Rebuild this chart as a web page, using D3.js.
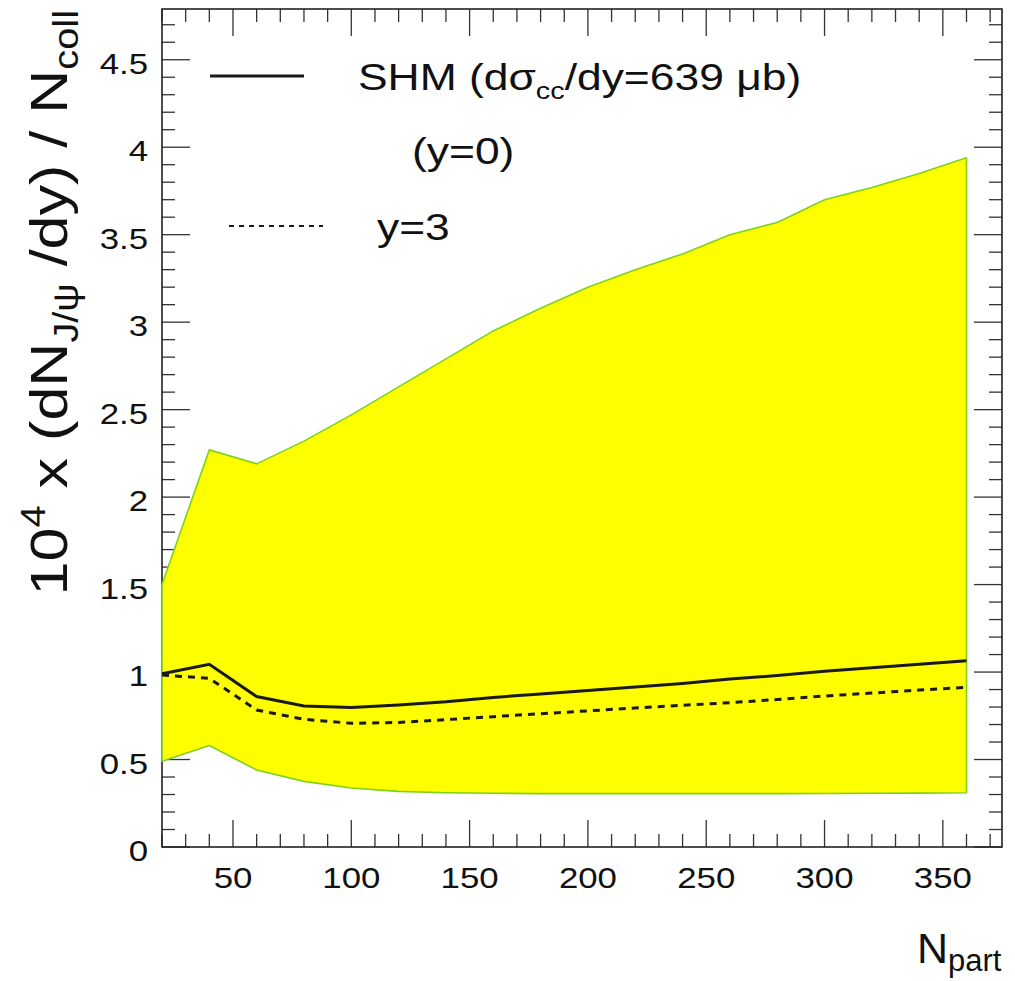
<!DOCTYPE html>
<html><head><meta charset="utf-8">
<script src="https://cdn.jsdelivr.net/npm/d3@7"></script>
<style>body{margin:0;background:#fff} text{font-family:"Liberation Sans",Arial,sans-serif;fill:#111}</style>
</head><body><svg id="c" width="1015" height="981"></svg>
<script>
const npart   = [20,40,60,80,100,120,140,160,180,200,220,240,260,280,300,320,340,360];
const bandHigh= [1.50,2.27,2.19,2.32,2.47,2.63,2.79,2.95,3.08,3.20,3.30,3.39,3.50,3.57,3.70,3.77,3.85,3.94];
const bandLow = [0.49,0.58,0.44,0.375,0.337,0.318,0.31,0.307,0.305,0.305,0.305,0.305,0.305,0.305,0.306,0.307,0.308,0.31];
const shmY0   = [0.99,1.044,0.86,0.806,0.798,0.812,0.83,0.855,0.875,0.895,0.915,0.935,0.96,0.98,1.005,1.025,1.045,1.065];
const shmY3   = [0.983,0.964,0.783,0.73,0.707,0.712,0.728,0.745,0.762,0.778,0.795,0.81,0.825,0.843,0.863,0.88,0.897,0.913];
const xMajor  = [50,100,150,200,250,300,350];
const xTickLabels = ["50","100","150","200","250","300","350"];
const yMajor  = [0,0.5,1,1.5,2,2.5,3,3.5,4,4.5];
const yTickLabels = ["0","0.5","1","1.5","2","2.5","3","3.5","4","4.5"];

const svg = d3.select("#c");
const L=162, R=1002, T=9, B=847;
const SX = 1.2; // horizontal stretch of the original text rendering
const x = d3.scaleLinear().domain([20,375]).range([L,R]);
const y = d3.scaleLinear().domain([0,4.79]).range([B,T]);

const xMinor = d3.range(20,376,10).filter(v=>!xMajor.includes(v));
const yMinor = d3.range(0,4.79,0.1).map(v=>+v.toFixed(1)).filter(v=>!yMajor.includes(v));

const tickCol="#333";
const gAx = svg.append("g");
function xt(vals,len,yb,dir){
  gAx.selectAll(null).data(vals).enter().append("line")
    .attr("x1",d=>x(d)).attr("x2",d=>x(d)).attr("y1",yb).attr("y2",yb+dir*len)
    .attr("stroke",tickCol).attr("stroke-width",1.3);
}
function yt(vals,len,xb,dir){
  gAx.selectAll(null).data(vals).enter().append("line")
    .attr("y1",d=>y(d)).attr("y2",d=>y(d)).attr("x1",xb).attr("x2",xb+dir*len)
    .attr("stroke",tickCol).attr("stroke-width",1.3);
}
xt(xMajor,27,B,-1); xt(xMinor,13,B,-1);
xt(xMajor,27,T,1);  xt(xMinor,13,T,1);
yt(yMajor,28,L,1);  yt(yMinor,13,L,1);
yt(yMajor,28,R,-1); yt(yMinor,13,R,-1);
gAx.append("rect").attr("x",L).attr("y",T).attr("width",R-L).attr("height",B-T)
  .attr("fill","none").attr("stroke","#222").attr("stroke-width",1.6);

// tick labels
svg.append("g").selectAll("text").data(xMajor).enter().append("text")
  .attr("transform",d=>`translate(${x(d)},888) scale(${SX},1)`).attr("text-anchor","middle")
  .attr("font-size",29).text((d,i)=>xTickLabels[i]);
svg.append("g").selectAll("text").data(yMajor).enter().append("text")
  .attr("transform",d=>`translate(148,${y(d)+14}) scale(${SX},1)`).attr("text-anchor","end")
  .attr("font-size",29).text((d,i)=>yTickLabels[i]);

// band
const data = npart.map((n,i)=>({n,hi:bandHigh[i],lo:bandLow[i],a:shmY0[i],b:shmY3[i]}));
const area = d3.area().x(d=>x(d.n)).y0(d=>y(d.lo)).y1(d=>y(d.hi));
svg.append("path").attr("d",area(data)+"Z")
  .attr("fill","#ffff00").attr("stroke","#7fd21a").attr("stroke-width",1.6).attr("stroke-linejoin","round");

const line0 = d3.line().x(d=>x(d.n)).y(d=>y(d.a));
const line3 = d3.line().x(d=>x(d.n)).y(d=>y(d.b));
svg.append("path").datum(data).attr("d",line0).attr("fill","none").attr("stroke","#1a1a1a").attr("stroke-width",3);
svg.append("path").datum(data).attr("d",line3).attr("fill","none").attr("stroke","#1a1a1a").attr("stroke-width",3).attr("stroke-dasharray","7,6");

// legend
svg.append("line").attr("x1",210).attr("x2",304).attr("y1",76).attr("y2",76).attr("stroke","#1a1a1a").attr("stroke-width",3);
svg.append("line").attr("x1",229).attr("x2",323).attr("y1",226).attr("y2",226).attr("stroke","#1a1a1a").attr("stroke-width",2).attr("stroke-dasharray","5,5");
const t1 = svg.append("text").attr("transform",`translate(358,90) scale(${SX},1)`).attr("font-size",37);
t1.append("tspan").text("SHM (d\u03c3");
t1.append("tspan").attr("font-size",24).attr("dy",9).text("cc");
t1.append("tspan").attr("dy",-9).text("/dy=639 \u03bcb)");
svg.append("text").attr("transform",`translate(412,164) scale(${SX},1)`).attr("font-size",37).text("(y=0)");
svg.append("text").attr("transform",`translate(377,240) scale(${SX},1)`).attr("font-size",37).text("y=3");

// x title
const xtT = svg.append("text").attr("x",917).attr("y",963).attr("font-size",43);
xtT.append("tspan").text("N");
xtT.append("tspan").attr("font-size",31).attr("dy",8).text("part");

// y title
const ytT = svg.append("text").attr("transform","translate(67,10) rotate(-90) scale(1.42,1.22)").attr("text-anchor","end").attr("font-size",43);
ytT.append("tspan").text("10");
ytT.append("tspan").attr("font-size",28).attr("dy",-18).text("4");
ytT.append("tspan").attr("dy",18).text(" x (dN");
ytT.append("tspan").attr("font-size",28).attr("dy",9).text("J/\u03c8");
ytT.append("tspan").attr("dy",-9).text(" /dy) / N");
ytT.append("tspan").attr("font-size",28).attr("dy",9).text("coll");
</script></body></html>
